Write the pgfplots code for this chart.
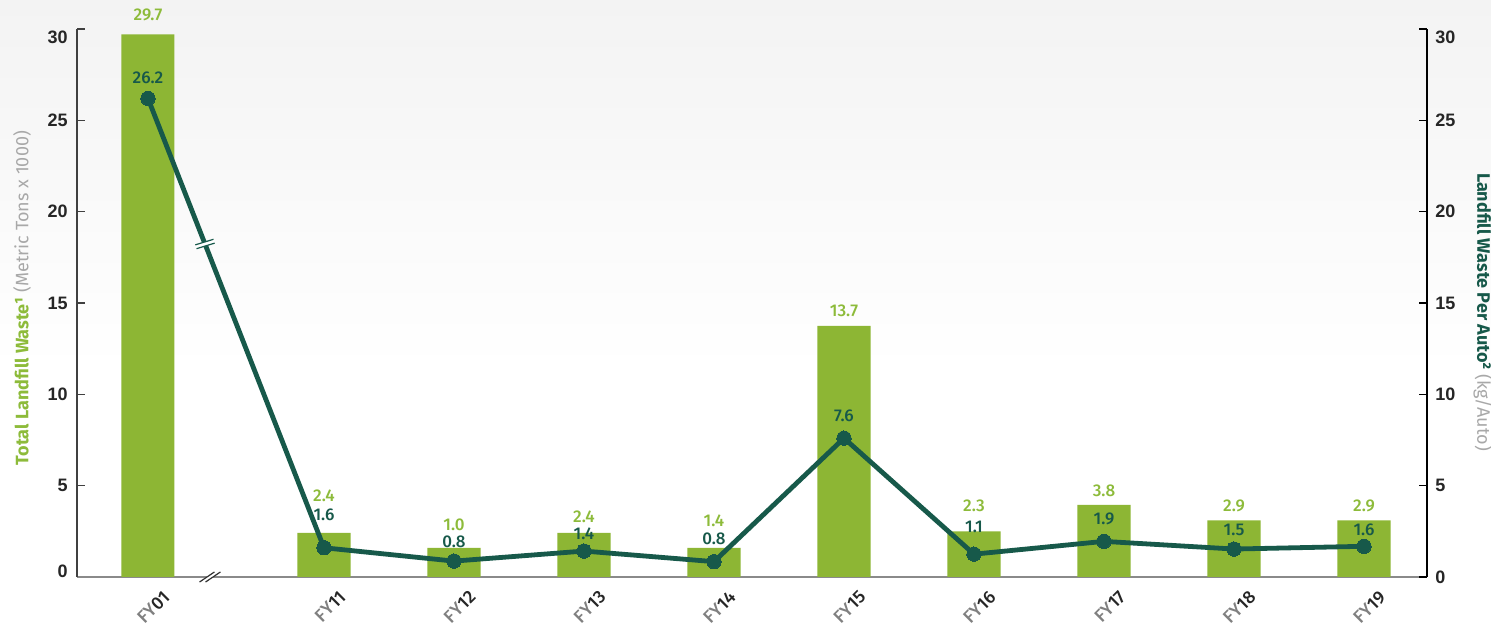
\documentclass[border=0pt]{standalone}
\usepackage{fontspec}
\setmainfont{Fira Sans}
\newfontfamily\tickfont{Liberation Sans}
\newfontfamily\medfont{Fira Sans Medium}
\usepackage{pgfplots}
\pgfplotsset{compat=1.18}
\definecolor{barg}{HTML}{8DB634}
\definecolor{lineg}{HTML}{17594A}
\definecolor{labg}{HTML}{8DBB3A}
\definecolor{txtgray}{HTML}{A8A8A8}
\definecolor{fygray}{HTML}{808080}
\definecolor{bg}{HTML}{F3F3F3}
\definecolor{axgray}{HTML}{8A8A8A}

\pgfplotstableread{
x y
-0.354 29.7
1 2.42
2 1.6
3 2.42
4 1.6
5 13.75
6 2.5
7 3.95
8 3.1
9 3.1
}\bars

\pgfplotstableread{
x y
-0.354 26.2
1 1.6
2 0.87
3 1.42
4 0.84
5 7.6
6 1.25
7 1.95
8 1.53
9 1.68
}\perauto

\pgfplotstableread{
x y lab
-0.354 30.77 29.7
1 4.43 2.4
2 2.85 1.0
3 3.28 2.4
4 3.07 1.4
5 14.56 13.7
6 3.89 2.3
7 4.71 3.8
8 3.89 2.9
9 3.89 2.9
}\greenlab

\pgfplotstableread{
x y lab
-0.354 27.34 26.2
1 3.39 1.6
2 1.92 0.8
3 2.35 1.4
4 2.08 0.8
5 8.81 7.6
6 2.74 1.1
7 3.18 1.9
8 2.57 1.5
9 2.57 1.6
}\darklab

\begin{document}
\begin{tikzpicture}
\path[use as bounding box] (-38.5pt,-23.5pt) rectangle (707pt,288.5pt);
\fill[white] (-38.5pt,-23.5pt) rectangle (707pt,288.5pt);
\shade[top color=bg, bottom color=white] (-38.5pt,103.5pt) rectangle (707pt,288.5pt);

\pgfplotsset{common/.style={
  scale only axis, width=675pt, height=274pt,
  xmin=-0.9, xmax=9.485, ymin=0, ymax=30,
  ytick={0,5,...,30}, clip=false,
  axis line style={-},
  tick align=inside, major tick length=4pt,
  /pgf/number format/assume math mode=true,
}}

\begin{axis}[common,
  axis x line*=bottom, axis y line*=left,
  x axis line style={axgray, line width=0.8pt},
  y axis line style={black!75, line width=0.6pt},
  ytick style={black!75, line width=0.6pt},
  yticklabels={\raisebox{3pt}[\height][\depth]{0},5,10,15,20,25,\raisebox{-4pt}[\height][\depth]{30}},
  xtick={-0.354,1,2,3,4,5,6,7,8,9},
  xticklabels={{\color{fygray}FY}01,{\color{fygray}FY}11,{\color{fygray}FY}12,{\color{fygray}FY}13,{\color{fygray}FY}14,{\color{fygray}FY}15,{\color{fygray}FY}16,{\color{fygray}FY}17,{\color{fygray}FY}18,{\color{fygray}FY}19},
  xtick style={draw=none},
  xticklabel style={font=\medfont\fontsize{9}{10}\selectfont, text=black!85, xshift=7pt, yshift=-6pt, rotate=45, anchor=north east, inner sep=0pt},
  yticklabel style={font=\tickfont\bfseries\fontsize{9}{10}\selectfont, text=black!85, inner sep=0pt, xshift=-4.5pt},
  ylabel={{\bfseries\color{labg}Total Landfill Waste¹} {\color{txtgray}(Metric Tons x 1000)}},
  every axis y label/.style={at={(axis description cs:-0.0407,0.509)}, rotate=90, anchor=center, font=\fontsize{9}{10}\selectfont},
]
\addplot[ybar, bar width=0.408, fill=barg, draw=none] table[x=x,y=y] {\bars};
\fill[white] ([xshift=-4.9pt,yshift=-2.3pt]axis cs:0.123,0) -- ([xshift=2.5pt,yshift=2.3pt]axis cs:0.123,0) -- ([xshift=4.9pt,yshift=2.3pt]axis cs:0.123,0) -- ([xshift=-2.5pt,yshift=-2.3pt]axis cs:0.123,0) -- cycle;
\draw[black!80, line width=0.6pt] ([xshift=-5.23pt,yshift=-2.52pt]axis cs:0.123,0) -- ([xshift=2.23pt,yshift=2.52pt]axis cs:0.123,0);
\draw[black!80, line width=0.6pt] ([xshift=-2.23pt,yshift=-2.52pt]axis cs:0.123,0) -- ([xshift=5.23pt,yshift=2.52pt]axis cs:0.123,0);
\end{axis}

\begin{axis}[common,
  axis x line=none, axis y line*=right,
  y axis line style={black, line width=0.6pt},
  ytick style={black, line width=0.6pt},
  yticklabels={0,5,10,15,20,25,\raisebox{-4pt}[\height][\depth]{30}},
  xtick=\empty,
  yticklabel style={font=\tickfont\bfseries\fontsize{9}{10}\selectfont, text=black!85, inner sep=0pt, anchor=west, xshift=4pt},
  ylabel={{\bfseries\color{lineg}Landfill Waste Per Auto²} {\color{txtgray}(kg/Auto)}},
  every axis y label/.style={at={(axis description cs:1.0415,0.4836)}, rotate=-90, anchor=center, font=\fontsize{9}{10}\selectfont},
]
\addplot[lineg, line width=2.4pt, mark=*, mark size=3.6pt, mark options={fill=lineg, draw=lineg, line width=0pt}] table[x=x,y=y] {\perauto};
\fill[white] ([xshift=-4.83pt,yshift=-0.43pt]axis cs:0.0846,18.23) -- ([xshift=4.25pt,yshift=2.35pt]axis cs:0.0846,18.23) -- ([xshift=4.83pt,yshift=0.43pt]axis cs:0.0846,18.23) -- ([xshift=-4.25pt,yshift=-2.35pt]axis cs:0.0846,18.23) -- cycle;
\draw[lineg, line width=0.6pt] ([xshift=-4.83pt,yshift=-0.43pt]axis cs:0.0846,18.23) -- ([xshift=4.25pt,yshift=2.35pt]axis cs:0.0846,18.23);
\draw[lineg, line width=0.6pt] ([xshift=-4.25pt,yshift=-2.35pt]axis cs:0.0846,18.23) -- ([xshift=4.83pt,yshift=0.43pt]axis cs:0.0846,18.23);
\addplot[draw=none, mark=none, nodes near coords, point meta=explicit symbolic,
  every node near coord/.style={anchor=center, inner sep=0pt, text=labg, font=\medfont\fontsize{8.5}{9}\selectfont}]
  table[x=x,y=y,meta=lab] {\greenlab};
\addplot[draw=none, mark=none, nodes near coords, point meta=explicit symbolic,
  every node near coord/.style={anchor=center, inner sep=0pt, text=lineg, font=\medfont\fontsize{8.5}{9}\selectfont}]
  table[x=x,y=y,meta=lab] {\darklab};
\end{axis}
\end{tikzpicture}
\end{document}
